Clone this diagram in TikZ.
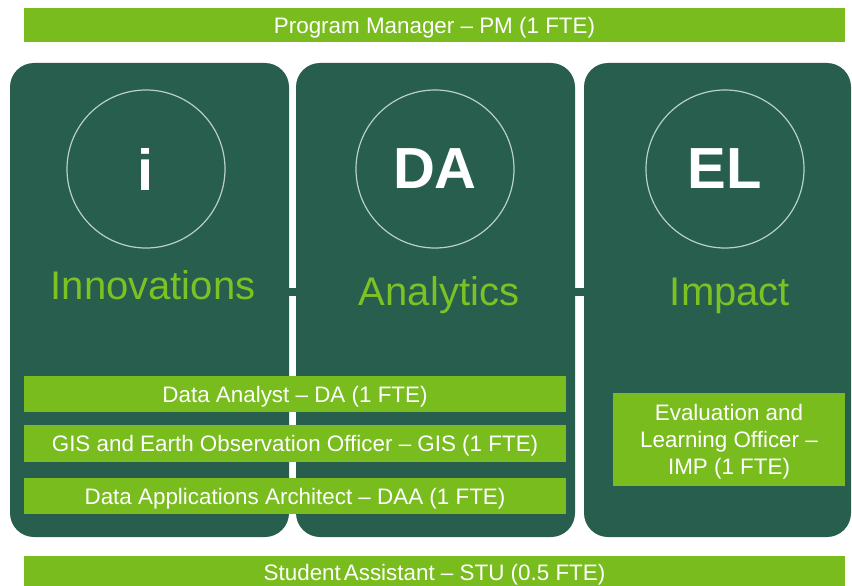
\documentclass[tikz,border=0pt]{standalone}
\usepackage{fontspec}
\setmainfont{Liberation Sans}
\definecolor{barGreen}{HTML}{78BC1E}
\definecolor{panelGreen}{HTML}{275E4E}
\definecolor{labelGreen}{HTML}{7CC225}
\definecolor{ringGrey}{HTML}{B8D0C6}
\begin{document}
\begin{tikzpicture}[x=1pt,y=-1pt,
  rolebar/.style={fill=barGreen, text=white, inner sep=0pt, align=center,
    text depth=0pt, font=\fontsize{22.4}{27}\selectfont},
  panel/.style={fill=panelGreen, rounded corners=24pt, inner sep=0pt},
  ring/.style={circle, draw=ringGrey, line width=1.2pt, minimum size=158pt,
    inner sep=0pt, text=white, font=\bfseries\fontsize{58}{60}\selectfont},
  area/.style={text=labelGreen, font=\fontsize{40}{44}\selectfont, anchor=base},
  link/.style={draw=panelGreen, line width=8pt}]
\path[use as bounding box] (0,0) rectangle (852,586);
\fill[white] (0,0) rectangle (852,586);

% three programme panels
\node[panel, minimum width=279pt, minimum height=474pt] (p1) at (149.5,300) {};
\node[panel, minimum width=279pt, minimum height=474pt] (p2) at (435.5,300) {};
\node[panel, minimum width=267pt, minimum height=474pt] (p3) at (717.5,300) {};

% short links joining the panels
\draw[link] ([yshift=8pt]p1.east) -- ([yshift=8pt]p2.west);
\draw[link] ([yshift=8pt]p2.east) -- ([yshift=8pt]p3.west);

% emblems
\node[ring] (ri) at (146,169) {i};
\node[ring] (rda) at (435,169) {DA};
\node[ring] (rel) at (725,169) {EL};

% area names
\node[area] (ai) at (153,299) {Innovations};
\node[area] (ada) at (439,305) {Analytics};
\node[area] (ael) at (730,305) {Impact};

% staff roles
\node[rolebar, minimum width=821pt, minimum height=34pt] (pm) at (434.5,25)
  {Program Manager – PM (1 FTE)};
\node[rolebar, minimum width=542pt, minimum height=36pt] (da) at (295,394)
  {Data Analyst – DA (1 FTE)};
\node[rolebar, minimum width=542pt, minimum height=37pt] (gis) at (295,443.5)
  {GIS and Earth Observation Officer – GIS (1 FTE)};
\node[rolebar, minimum width=542pt, minimum height=36pt] (daa) at (295,496)
  {Data Applications Architect – DAA (1 FTE)};
\node[rolebar, minimum width=232pt, minimum height=93pt] (imp) at (729,439.5)
  {Evaluation and\\Learning Officer –\\IMP (1 FTE)};
% bottom bar runs past the lower edge of the page
\fill[barGreen] (24,556) rectangle (845,594);
\node[rolebar, fill=none] (stu) at (434.5,572)
  {Student\hspace{3pt}Assistant – STU (0.5 FTE)};
\end{tikzpicture}
\end{document}
